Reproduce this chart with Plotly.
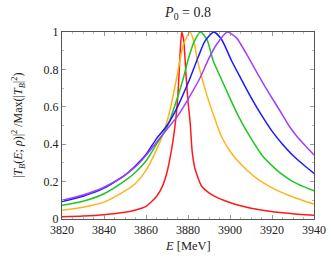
import plotly.graph_objects as go

# Energy (MeV) and normalised |T_B|^2
E_red = [3820, 3830, 3840, 3850, 3855, 3860, 3865, 3868, 3870, 3872, 3873.5, 3874.6, 3875.4, 3876.2, 3877,
         3878, 3879, 3880, 3881, 3882, 3883.3, 3886.5, 3890, 3893, 3897, 3902, 3910, 3918, 3925, 3932, 3940]
v_red = [0.012, 0.016, 0.023, 0.036, 0.048, 0.068, 0.12, 0.18, 0.25, 0.36, 0.47, 0.58, 0.70, 0.88, 1.0,
         0.95, 0.78, 0.63, 0.52, 0.36, 0.27, 0.175, 0.14, 0.12, 0.10, 0.08, 0.058, 0.043, 0.033, 0.026, 0.02]

E_orange = [3820, 3830, 3840, 3850, 3855, 3860, 3865, 3868, 3870, 3872, 3874.6, 3877.8, 3881, 3883, 3884.5,
            3888.9, 3893, 3896, 3900.8, 3908, 3913, 3919, 3924, 3929.4, 3935, 3940]
v_orange = [0.047, 0.063, 0.09, 0.15, 0.19, 0.26, 0.37, 0.45, 0.52, 0.61, 0.754, 0.933, 1.0, 0.94, 0.85,
            0.665, 0.529, 0.44, 0.35, 0.262, 0.215, 0.173, 0.145, 0.12, 0.098, 0.08]

E_green = [3820, 3830, 3840, 3850, 3855, 3860, 3865, 3870, 3875, 3877.8, 3880, 3883, 3886, 3889, 3892.1,
           3895, 3899.2, 3904, 3909.5, 3916, 3924, 3930, 3935, 3940]
v_green = [0.073, 0.095, 0.135, 0.205, 0.25, 0.31, 0.40, 0.49, 0.65, 0.754, 0.85, 0.95, 1.0, 0.96, 0.843,
           0.77, 0.665, 0.55, 0.44, 0.33, 0.245, 0.20, 0.173, 0.151]

E_blue = [3820, 3830, 3840, 3850, 3855, 3860, 3865, 3870, 3875, 3881, 3885, 3888, 3892.3, 3896, 3900.8,
          3905, 3910, 3915, 3920, 3925, 3930, 3935, 3940]
v_blue = [0.093, 0.122, 0.165, 0.235, 0.285, 0.345, 0.43, 0.50, 0.60, 0.754, 0.87, 0.95, 1.0, 0.96, 0.845,
          0.755, 0.65, 0.555, 0.47, 0.40, 0.34, 0.29, 0.244]

E_purple = [3820, 3830, 3840, 3850, 3855, 3860, 3865, 3870, 3875, 3880, 3885.7, 3890, 3893.6, 3898.7, 3903,
            3909.5, 3914, 3919, 3924, 3928, 3932, 3936, 3940]
v_purple = [0.10, 0.128, 0.17, 0.235, 0.28, 0.34, 0.41, 0.48, 0.55, 0.64, 0.754, 0.86, 0.933, 1.0, 0.97,
            0.85, 0.76, 0.665, 0.575, 0.50, 0.44, 0.39, 0.342]

x_ticks = [3820, 3840, 3860, 3880, 3900, 3920, 3940]
y_ticks = [0, 0.2, 0.4, 0.6, 0.8, 1]
y_ticklabels = ["0", "0.2", "0.4", "0.6", "0.8", "1"]

series = [
    (E_red, v_red, "#ff1a1a"),
    (E_orange, v_orange, "#ffb31a"),
    (E_green, v_green, "#1ec81e"),
    (E_blue, v_blue, "#1a1aff"),
    (E_purple, v_purple, "#a040ff"),
]

fig = go.Figure()
for xs, ys, col in series:
    fig.add_trace(go.Scatter(x=xs, y=ys, mode="lines",
                             line=dict(color=col, width=1.5, shape="spline", smoothing=0.6),
                             showlegend=False, hoverinfo="skip"))

font = "Liberation Serif"
axis_common = dict(showline=True, linecolor="#555", linewidth=1, mirror="allticks",
                   ticks="inside", tickcolor="#999", ticklen=4, showgrid=False, zeroline=False,
                   automargin=False, fixedrange=True,
                   tickfont=dict(family=font, size=12, color="#222"))

L, R, T, B, W, H = 62, 18, 32, 41, 332, 260
pw, ph = W - L - R, H - T - B

fig.update_layout(
    width=W, height=H, autosize=False,
    margin=dict(l=L, r=R, t=T, b=B, pad=0),
    paper_bgcolor="white", plot_bgcolor="white",
    hovermode=False,
    title=dict(text="<i>P</i><sub>0</sub> = 0.8", x=(L + W - R) / 2 / W, xanchor="center",
               y=1 - 12 / H, yanchor="middle", font=dict(family=font, size=14, color="#222")),
    xaxis=dict(range=[3820, 3940], tickvals=x_ticks, ticktext=[str(t) for t in x_ticks],
               minor=dict(ticks="inside", dtick=5, ticklen=2, tickcolor="#bbb"),
               **axis_common),
    yaxis=dict(range=[0, 1], tickvals=y_ticks, ticktext=y_ticklabels,
               minor=dict(ticks="inside", dtick=0.1, ticklen=2, tickcolor="#bbb"),
               **axis_common),
    annotations=[
        dict(text="<i>E</i> [MeV]", xref="paper", yref="paper", x=0.5, y=-(246 - (H - B)) / ph,
             xanchor="center", yanchor="middle", showarrow=False,
             font=dict(family=font, size=12.5, color="#222")),
        dict(text="|<i>T<sub>B</sub></i>(<i>E</i>; <i>ρ</i>)|<sup>2</sup> /Max(|<i>T<sub>B</sub></i>|<sup>2</sup>)",
             xref="paper", yref="paper", x=-(L - 18) / pw, y=(H - B - 126) / ph, textangle=-90,
             xanchor="center", yanchor="middle", showarrow=False,
             font=dict(family=font, size=12, color="#222")),
    ],
)

fig.write_html("out.html",
               config={"displayModeBar": False, "staticPlot": True},
               post_script="document.body.style.margin='0';document.body.style.padding='0';"
                           "document.documentElement.style.overflow='hidden';")
